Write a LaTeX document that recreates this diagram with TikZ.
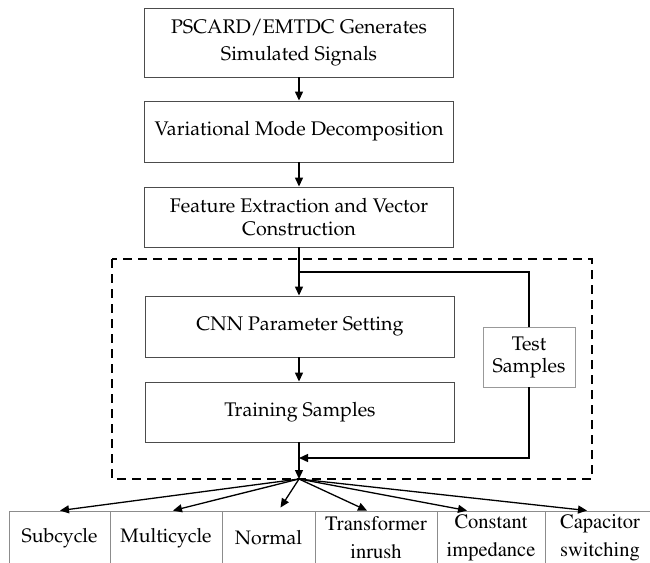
\documentclass[tikz,border=0pt]{standalone}
\usepackage[T1]{fontenc}
\usepackage{mathpazo}
\usetikzlibrary{arrows.meta}
\newcommand\mytms{\fontfamily{ptm}\selectfont}
\begin{document}
\begin{tikzpicture}[x=1pt,y=-1pt,
  mainbox/.style={draw=black!70, line width=0.9pt, minimum width=309pt, inner sep=0pt, align=center,
    font={\fontsize{19.7}{27}\selectfont}},
  testbox/.style={draw=black!40, line width=0.9pt, fill=white, minimum width=92pt, minimum height=60pt, inner sep=0pt, align=center,
    font={\fontsize{19.7}{22}\selectfont}},
  catbox/.style={draw=black!45, line width=0.9pt, minimum height=54pt, inner sep=0pt, align=center,
    font={\fontsize{19.5}{28}\selectfont}},
  cattms/.style={catbox, font={\mytms\fontsize{20.5}{28}\selectfont}},
  arr/.style={-{Triangle[length=9pt,width=8pt]}, line width=1.3pt},
  plain/.style={line width=1.3pt},
  dashbox/.style={line width=1.6pt, dash pattern=on 9pt off 6pt}
]
\useasboundingbox (0,0) rectangle (650,562);
\clip (0,0) rectangle (650,562);
\node[mainbox, minimum height=69pt] (b1) at (299,42.5) {PSCARD/EMTDC Generates\\Simulated Signals};
\node[mainbox, minimum height=61pt] (b2) at (299,131.5) {Variational Mode Decomposition};
\node[mainbox, minimum height=60pt, font={\fontsize{19.7}{23}\selectfont}] (b3) at (299,217) {Feature Extraction and Vector\\Construction};
\node[mainbox, minimum height=61pt] (b4) at (300,326.5) {CNN Parameter Setting};
\node[mainbox, minimum height=60pt] (b5) at (300,412) {Training Samples};
\node[testbox] (test) at (529,357) {Test\\Samples};
\draw[dashbox] (112,259) rectangle (592,479);

\coordinate (j) at (299,272);
\coordinate (fb) at (299,458);
\coordinate (fan) at (299,479);

\draw[arr] (b1.south) -- (b2.north);
\draw[arr] (b2.south) -- (b3.north);
\draw[arr] (b3.south -| j) -- (b4.north -| j);
\draw[arr] (b4.south -| j) -- (b5.north -| j);
\draw[plain] (j) -| (test.north);
\draw[arr] (test.south) |- (fb);
\draw[arr] (b5.south -| j) -- (fan);

\node[catbox, minimum width=101pt] (c1) at (59.5,538) {Subcycle};
\node[catbox, minimum width=112pt] (c2) at (166,538) {Multicycle};
\node[catbox, minimum width=93pt] (c3) at (268.5,538) {Normal};
\node[cattms, minimum width=122pt] (c4) at (376,538) {Transformer\\inrush};
\node[cattms, minimum width=108pt] (c5) at (491,538) {Constant\\impedance};
\node[cattms, minimum width=110pt] (c6) at (600,538) {Capacitor\\switching};

\draw[arr] (fan) -- ([xshift=0.5pt]c1.north);
\draw[arr] (fan) -- ([xshift=7pt]c2.north);
\draw[arr] (fan) -- ([xshift=12pt,yshift=3pt]c3.north);
\draw[arr] (fan) -- ([xshift=-9pt]c4.north);
\draw[arr] (fan) -- ([xshift=-24pt]c5.north);
\draw[arr] (fan) -- ([xshift=-13pt]c6.north);
\end{tikzpicture}
\end{document}
